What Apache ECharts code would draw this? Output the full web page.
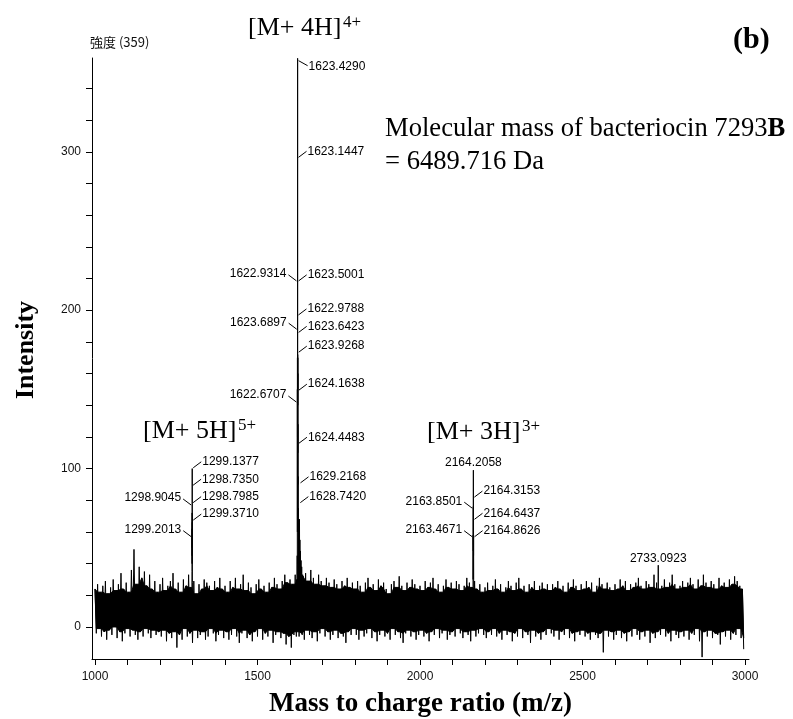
<!DOCTYPE html>
<html><head><meta charset="utf-8">
<script src="https://cdn.jsdelivr.net/npm/echarts@6/dist/echarts.min.js"></script>
<style>html,body{margin:0;padding:0;background:#fff}#c{width:793px;height:719px}</style>
</head><body><div id="c"></div>
<script>
// ---------- DATA ----------
// Baseline noise of the spectrum, read as upper / lower excursions on an 8 m/z grid from 1000
const noiseStart = 1000;
const noiseStep = 8;
const noiseHigh = [
 24,27,22,26,29,21,25,30,23,27,34,24,28,22,36,49,27,38,31,35,26,33,24,29,22,
 27,31,23,26,29,34,24,28,22,30,26,33,25,29,21,27,24,30,28,26,23,29,25,31,24,
 26,22,29,25,31,24,27,33,23,28,25,21,27,30,24,26,22,28,25,31,27,24,29,33,28,
 30,27,33,30,35,32,34,29,36,31,27,33,29,26,31,28,25,30,27,24,29,26,31,25,28,
 24,29,26,22,28,31,25,27,23,30,26,28,24,21,27,29,25,32,26,23,28,25,30,27,24,
 26,23,29,25,28,31,24,27,22,26,30,25,28,24,29,27,23,26,31,28,25,29,24,27,22,
 25,28,23,26,30,24,27,22,25,29,26,23,28,31,24,26,22,27,25,29,23,26,28,24,27,
 23,27,25,29,24,26,22,28,25,30,26,23,27,24,29,25,28,22,26,31,27,24,28,25,23,
 27,24,30,26,29,23,27,25,28,31,26,24,29,27,25,33,28,24,26,30,25,28,33,27,24,
 26,29,25,28,31,27,24,30,26,33,28,25,29,27,24,31,26,28,25,30,27,32,29,26,24
];
const noiseLow = [
 -4,-1,-6,-3,-8,-2,-5,0,-7,-3,-9,-4,-1,-6,-2,-5,-8,-3,-6,-1,-4,-7,-2,-5,-3,
 -6,-2,-9,-4,-7,-3,-13,-5,-8,-1,-6,-4,-10,-2,-7,-5,-3,-8,-6,-1,-4,-9,-5,-2,-7,
 -3,-8,-5,-1,-6,-10,-4,-2,-7,-5,-9,-3,-6,-1,-8,-4,-6,-2,-10,-5,-3,-7,-4,-11,-6,
 -13,-5,-3,-6,-4,-8,-2,-5,-7,-3,-9,-4,-1,-6,-3,-8,-5,-2,-7,-4,-6,-10,-3,-5,-1,
 -5,-8,-2,-6,-4,-1,-7,-3,-9,-5,-2,-6,-4,-8,-1,-5,-3,-7,-10,-4,-2,-6,-3,-8,-5,
 -2,-6,-4,-9,-3,-5,-1,-7,-4,-2,-8,-5,-3,-6,-1,-4,-7,-3,-5,-9,-2,-6,-4,-1,-5,
 -7,-3,-5,-1,-6,-4,-8,-2,-5,-3,-9,-4,-6,-1,-7,-3,-5,-10,-2,-6,-4,-8,-3,-5,-1,
 -4,-6,-2,-8,-3,-5,-1,-7,-4,-9,-3,-5,-2,-6,-4,-8,-3,-5,-7,-4,-16,-2,-6,-3,-8,
 -5,-2,-7,-4,-9,-3,-6,-1,-5,-8,-3,-6,-2,-10,-4,-7,-3,-5,-1,-6,-4,-9,-2,-5,-7,
 -3,-6,-2,-8,-4,-5,-1,-9,-19,-3,-6,-2,-7,-4,-5,-11,-3,-6,-2,-8,-4,-5,-1,-7,-14
];
// Peak clusters [m/z, intensity]
const peak1299 = [[1298.2,12],[1298.55,35],[1298.74,62],[1298.8,40],[1298.9,72],[1299.0,45],[1299.14,100],[1299.25,50],[1299.37,66],[1299.6,28],[1300.0,15]];
const peak1623 = [[1618,22],[1619.5,-6],[1620.5,30],[1621.5,0],[1622.2,45],[1622.45,10],[1622.67,150],[1622.8,60],[1622.93,170],[1623.05,120],[1623.14,168],[1623.3,150],[1623.43,359],[1623.55,150],[1623.68,172],[1623.8,140],[1623.93,170],[1624.05,110],[1624.16,160],[1624.3,90],[1624.45,128],[1624.6,70],[1624.9,95],[1625.2,40],[1625.6,75],[1626.2,30],[1626.8,68],[1627.5,25],[1628.1,66],[1628.74,60],[1629.22,68],[1629.8,20],[1630.5,55],[1631.3,10],[1632,48],[1633,5],[1634,42],[1635,0],[1636,38],[1637.5,-5],[1639,33],[1640.5,-3],[1642,30],[1643.5,-4]];
const peak2164 = [[2163.0,15],[2163.47,58],[2163.6,30],[2163.85,76],[2164.0,48],[2164.21,99],[2164.32,76],[2164.5,52],[2164.64,70],[2164.75,45],[2164.86,58],[2165.2,30],[2165.8,12]];
const peak2733 = [[2732.6,15],[2733.09,39],[2733.6,12]];

// Peak annotations: text, m/z, intensity at which the leader meets the stick
const annText = ['1623.4290','1623.1447','1623.5001','1622.9314','1622.9788','1623.6897','1623.6423','1623.9268','1624.1638','1622.6707','1624.4483','1629.2168','1628.7420',
  '1299.1377','1298.7350','1298.7985','1298.9045','1299.3710','1299.2013',
  '2164.2058','2164.3153','2163.8501','2164.6437','2163.4671','2164.8626','2733.0923'];
const annMz = [1623.4290,1623.1447,1623.5001,1622.9314,1622.9788,1623.6897,1623.6423,1623.9268,1624.1638,1622.6707,1624.4483,1629.2168,1628.7420,
  1299.1377,1298.7350,1298.7985,1298.9045,1299.3710,1299.2013,
  2164.2058,2164.3153,2163.8501,2164.6437,2163.4671,2164.8626,2733.0923];
const annAt = [357.5,296.5,218.5,218.5,197,188,186,173.5,149.5,142,116,91,78.5,
  100.5,89.5,78.5,77,67.5,57,
  99,82,75,68,57,57,39];

const xTicks = [1000,1100,1200,1300,1400,1500,1600,1700,1800,1900,2000,2100,2200,2300,2400,2500,2600,2700,2800,2900,3000];
const xLabels = [1000,1500,2000,2500,3000];
const yTicks = [0,20,40,60,80,100,120,140,160,180,200,220,240,260,280,300,320,340];
const yLabels = [0,100,200,300];

// ---------- LAYOUT / STYLE ----------
const annSide = ['rd','r','r','l','r','l','r','r','r','l','r','r','r',
  'r','r','r','l','r','l',
  't','r','l','r','l','r','t'];

const noise = [];
for (let i = 0; i < noiseHigh.length; i++) {
  noise.push([noiseStart + i * noiseStep, noiseHigh[i]]);
  noise.push([noiseStart + i * noiseStep + noiseStep / 2, noiseLow[i]]);
}

const lblFont = '12px "Liberation Sans", Arial, sans-serif';
const serif = '"Liberation Serif", "Times New Roman", serif';

function renderAnn(params, api) {
  const i = params.dataIndex;
  const p = api.coord([api.value(0), api.value(1)]);
  const x = p[0], y = p[1];
  const txt = annText[i], side = annSide[i];
  const ls = { stroke: '#000', lineWidth: 1 };
  const ts = (tx, ty, al, va) => ({ type: 'text', style: { text: txt, x: tx, y: ty, align: al, verticalAlign: va, font: lblFont, fill: '#000' } });
  let ch;
  if (side === 'r') {
    ch = [{ type: 'line', shape: { x1: x + 1, y1: y, x2: x + 9, y2: y - 6 }, style: ls }, ts(x + 10, y - 6, 'left', 'middle')];
  } else if (side === 'l') {
    ch = [{ type: 'line', shape: { x1: x - 1, y1: y, x2: x - 9, y2: y - 6 }, style: ls }, ts(x - 11, y - 7, 'right', 'middle')];
  } else if (side === 'rd') {
    ch = [{ type: 'line', shape: { x1: x + 1, y1: y, x2: x + 10, y2: y + 5 }, style: ls }, ts(x + 11, y + 6, 'left', 'middle')];
  } else {
    ch = [ts(x, y - 1, 'center', 'bottom')];
  }
  return { type: 'group', children: ch };
}

// solid body of the noise band (inner envelope of neighbouring excursions); the zigzag line adds the spikes
function renderBand(params, api) {
  const n = noiseHigh.length, pts = [];
  const at = (arr, i) => arr[Math.max(0, Math.min(n - 1, i))];
  for (let i = 0; i < n; i++) {
    const top = Math.min(at(noiseHigh, i - 1), at(noiseHigh, i), at(noiseHigh, i + 1));
    pts.push(api.coord([noiseStart + i * noiseStep, top]));
  }
  for (let i = n - 1; i >= 0; i--) {
    const bot = Math.max(at(noiseLow, i - 1), at(noiseLow, i), at(noiseLow, i + 1));
    pts.push(api.coord([noiseStart + i * noiseStep + noiseStep / 2, bot]));
  }
  return { type: 'polygon', shape: { points: pts }, style: { fill: '#000', stroke: '#000', lineWidth: 1 } };
}

const lineStyleCommon = { type: 'line', symbol: 'none', silent: true, lineStyle: { color: '#000', width: 1 }, animation: false };
const plainNum = v => String(v);

const chart = echarts.init(document.getElementById('c'), null, { renderer: 'canvas' });
chart.setOption({
  animation: false,
  backgroundColor: '#fff',
  grid: { left: 92, right: 44, top: 58, bottom: 60, containLabel: false, outerBoundsMode: 'none' },
  xAxis: {
    type: 'value', min: 990.77, max: 3012.3,
    name: 'Mass to charge ratio (m/z)', nameLocation: 'middle', nameGap: 32,
    nameTextStyle: { fontFamily: serif, fontWeight: 'bold', fontSize: 27, color: '#000' },
    axisLine: { show: true, onZero: false, lineStyle: { color: '#000', width: 1 } },
    axisTick: { show: true, inside: false, length: 6, customValues: xTicks, lineStyle: { color: '#000' } },
    axisLabel: { customValues: xLabels, formatter: plainNum, margin: 12, fontFamily: '"Liberation Sans", Arial', fontSize: 12, color: '#111' },
    splitLine: { show: false }
  },
  yAxis: {
    type: 'value', min: -20.2, max: 359.2,
    axisLine: { show: true, onZero: false, lineStyle: { color: '#000', width: 1 } },
    axisTick: { show: true, inside: false, length: 6, customValues: yTicks, lineStyle: { color: '#000' } },
    axisLabel: { customValues: yLabels, formatter: plainNum, margin: 11, fontFamily: '"Liberation Sans", Arial', fontSize: 12, color: '#111' },
    splitLine: { show: false }
  },
  series: [
    { type: 'custom', name: 'noiseBand', silent: true, z: 1, data: [[noiseStart, 0]], encode: { x: 0, y: 1 }, renderItem: renderBand },
    Object.assign({}, lineStyleCommon, { name: 'noise', data: noise, z: 2 }),
    Object.assign({}, lineStyleCommon, { name: 'p1299', data: peak1299, z: 3 }),
    Object.assign({}, lineStyleCommon, { name: 'p1623', data: peak1623, z: 3 }),
    Object.assign({}, lineStyleCommon, { name: 'p2164', data: peak2164, z: 3 }),
    Object.assign({}, lineStyleCommon, { name: 'p2733', data: peak2733, z: 3 }),
    {
      type: 'custom', name: 'annotations', silent: true, z: 5, clip: false,
      data: annMz.map((m, i) => [m, annAt[i]]),
      encode: { x: 0, y: 1 },
      renderItem: renderAnn
    }
  ],
  graphic: [
    { type: 'text', left: 90, top: 36, style: { text: '強度 (359)', font: '13px "Noto Sans CJK JP", sans-serif', fill: '#111' } },
    { type: 'text', x: 248, y: 28, style: { text: '[M+ 4H]', font: '26px ' + serif, fill: '#000', verticalAlign: 'middle' } },
    { type: 'text', x: 343, y: 23, style: { text: '4+', font: '17px ' + serif, fill: '#000', verticalAlign: 'middle' } },
    { type: 'text', x: 143, y: 431, style: { text: '[M+ 5H]', font: '26px ' + serif, fill: '#000', verticalAlign: 'middle' } },
    { type: 'text', x: 238, y: 426, style: { text: '5+', font: '17px ' + serif, fill: '#000', verticalAlign: 'middle' } },
    { type: 'text', x: 427, y: 432, style: { text: '[M+ 3H]', font: '26px ' + serif, fill: '#000', verticalAlign: 'middle' } },
    { type: 'text', x: 522, y: 427, style: { text: '3+', font: '17px ' + serif, fill: '#000', verticalAlign: 'middle' } },
    { type: 'text', x: 733, y: 40, style: { text: '(b)', font: 'bold 30px ' + serif, fill: '#000', verticalAlign: 'middle' } },
    { type: 'text', x: 385, y: 129, style: { text: '{n|Molecular mass of bacteriocin 7293}{b|B}', verticalAlign: 'middle',
        rich: { n: { font: '26.6px ' + serif, fill: '#000' }, b: { font: 'bold 26.6px ' + serif, fill: '#000' } } } },
    { type: 'text', x: 385, y: 162, style: { text: '= 6489.716 Da', font: '26.6px ' + serif, fill: '#000', verticalAlign: 'middle' } },
    { type: 'text', x: 26, y: 350, rotation: Math.PI / 2, style: { text: 'Intensity', font: 'bold 26px ' + serif, fill: '#000', align: 'center', verticalAlign: 'middle' } }
  ]
});
</script>
</body></html>
